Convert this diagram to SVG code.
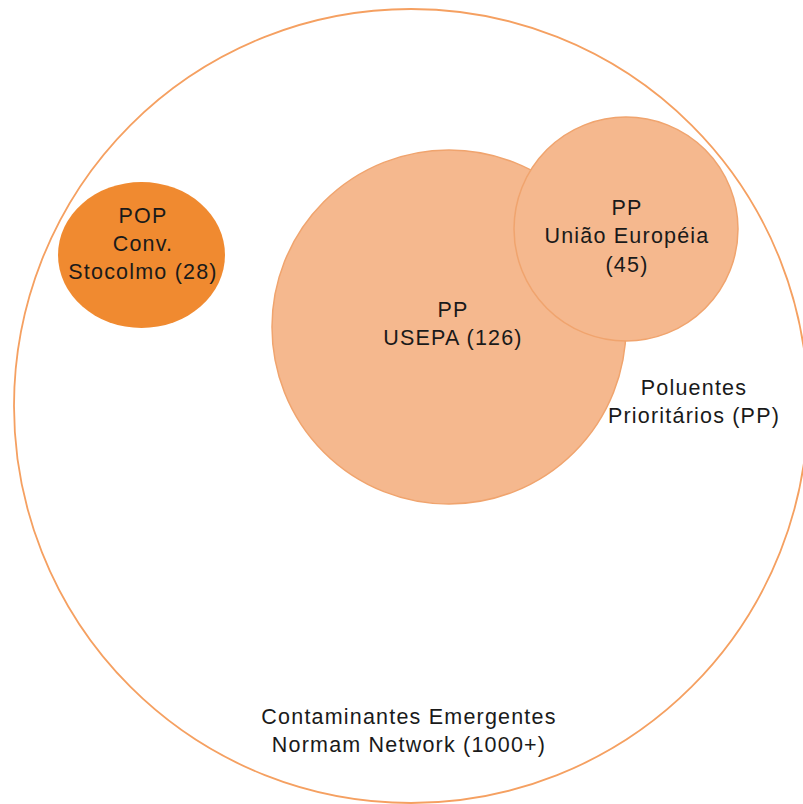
<svg xmlns="http://www.w3.org/2000/svg" width="803" height="804" viewBox="0 0 803 804">
<style>
text{font-family:"Liberation Sans",Arial,sans-serif;font-size:21.5px;letter-spacing:1.2px;fill:#1a1a1a;text-anchor:middle}
.pp{fill:#F5B88E;stroke:#F0A46E;stroke-width:1.5}
</style>
<rect width="803" height="804" fill="#fff"/>
<g id="contaminantes">
<circle cx="411" cy="406" r="397" fill="none" stroke="#F5A061" stroke-width="1.8"/>
<text x="409" y="724">Contaminantes Emergentes</text>
<text x="409" y="752">Normam Network (1000+)</text>
</g>
<g id="pp-label">
<text x="694" y="395">Poluentes</text>
<text x="694" y="423">Prioritários (PP)</text>
</g>
<g id="pop">
<ellipse cx="141.5" cy="255" rx="83.5" ry="73" fill="#F08A30"/>
<text x="143" y="223">POP</text>
<text x="143" y="251">Conv.</text>
<text x="143" y="279">Stocolmo (28)</text>
</g>
<g id="usepa">
<circle class="pp" cx="449" cy="327" r="177"/>
<text x="453" y="317">PP</text>
<text x="453" y="345">USEPA (126)</text>
</g>
<g id="ue">
<circle class="pp" cx="626" cy="229" r="112"/>
<text x="627" y="215">PP</text>
<text x="627" y="243">União Européia</text>
<text x="627" y="272">(45)</text>
</g>
<g id="connectors"/>
</svg>
